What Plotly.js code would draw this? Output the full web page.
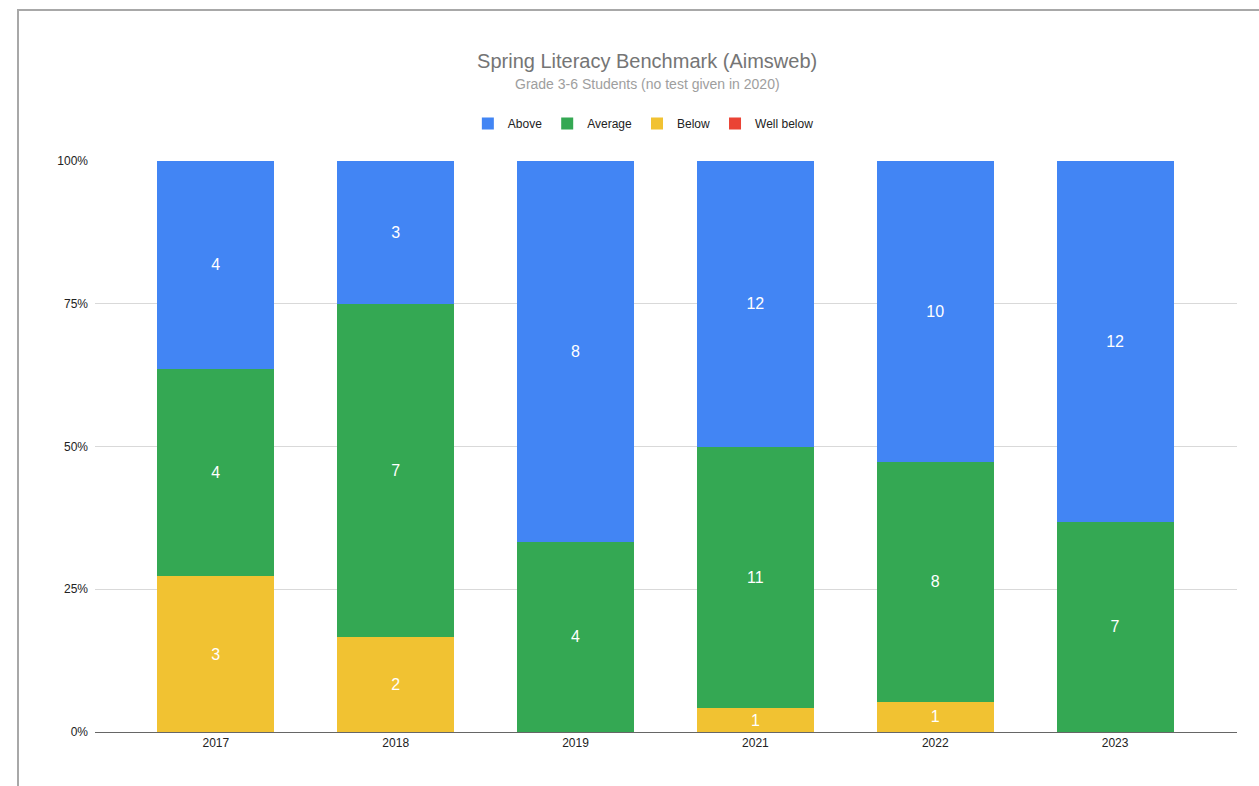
<!DOCTYPE html>
<html>
<head>
<meta charset="utf-8">
<script src="https://cdn.plot.ly/plotly-3.0.1.min.js"></script>
<style>
html,body{margin:0;padding:0;background:#fff;}
#wrap{position:relative;width:1259px;height:786px;overflow:hidden;}
#chart{position:absolute;left:0;top:0;width:1259px;height:786px;}
#frame{position:absolute;left:17px;top:9px;width:1300px;height:800px;border-top:2px solid #a8a8a8;border-left:2px solid #a8a8a8;pointer-events:none;}
</style>
</head>
<body>
<div id="wrap">
<div id="chart"></div>
<div id="frame"></div>
</div>
<script>
const years = ['2017','2018','2019','2021','2022','2023'];
const above = [4, 3, 8, 12, 10, 12];
const average = [4, 7, 4, 11, 8, 7];
const below = [3, 2, 0, 1, 1, 0];
const wellBelow = [null, null, null, null, null, null];
const yTicks = [0, 25, 50, 75, 100];
const yTickLabels = ['0%', '25%', '50%', '75%', '100%'];

function series(name, vals, color) {
  return {
    type: 'bar', name: name, x: years, y: vals,
    marker: {color: color, line: {width: 0}},
    text: vals.map(v => (v === null || v === 0) ? '' : String(v)),
    textposition: 'inside', insidetextanchor: 'middle', textangle: 0,
    insidetextfont: {color: '#ffffff', size: 16, family: 'Liberation Sans, Arial, sans-serif'},
    width: 0.65, hoverinfo: 'none'
  };
}

const data = [
  series('Well below', wellBelow, '#ea4335'),
  series('Below', below, '#f1c232'),
  series('Average', average, '#34a853'),
  series('Above', above, '#4285f4')
];

const layout = {
  width: 1259, height: 786,
  margin: {l: 95, r: 22, t: 161, b: 54},
  paper_bgcolor: '#ffffff', plot_bgcolor: '#ffffff',
  font: {family: 'Liberation Sans, Arial, sans-serif', size: 12, color: '#222222'},
  barmode: 'stack', barnorm: 'percent',
  uniformtext: {minsize: 16, mode: 'show'},
  title: {
    text: 'Spring Literacy Benchmark (Aimsweb)',
    font: {size: 20, color: '#757575'},
    x: 0.514, xanchor: 'center', y: 0.922, yanchor: 'middle', xref: 'container', yref: 'container'
  },
  annotations: [{
    text: 'Grade 3-6 Students (no test given in 2020)',
    font: {size: 14, color: '#9e9e9e'},
    showarrow: false, xref: 'paper', yref: 'paper',
    x: (647 - 95) / 1142, xanchor: 'center',
    y: (732 - 84) / 571, yanchor: 'middle'
  }],
  showlegend: true,
  legend: {
    orientation: 'h', traceorder: 'reversed',
    x: 0.511, xanchor: 'center', xref: 'container',
    y: 0.843, yanchor: 'middle', yref: 'container',
    font: {size: 12, color: '#222222'},
    itemwidth: 30, itemclick: false
  },
  xaxis: {
    type: 'category', range: [-0.672, 5.678],
    showgrid: false, showline: true, linecolor: '#666666', linewidth: 1,
    ticks: '', tickfont: {size: 12, color: '#222222'}, fixedrange: true
  },
  yaxis: {
    range: [0, 100], tickmode: 'array', tickvals: yTicks, ticktext: yTickLabels,
    showgrid: true, gridcolor: '#d9d9d9', gridwidth: 1,
    zeroline: false, showline: false, ticks: '',
    tickfont: {size: 12, color: '#222222'}, ticklabelstandoff: 6, fixedrange: true
  }
};

Plotly.newPlot('chart', data, layout, {displayModeBar: false, staticPlot: true});
</script>
</body>
</html>
